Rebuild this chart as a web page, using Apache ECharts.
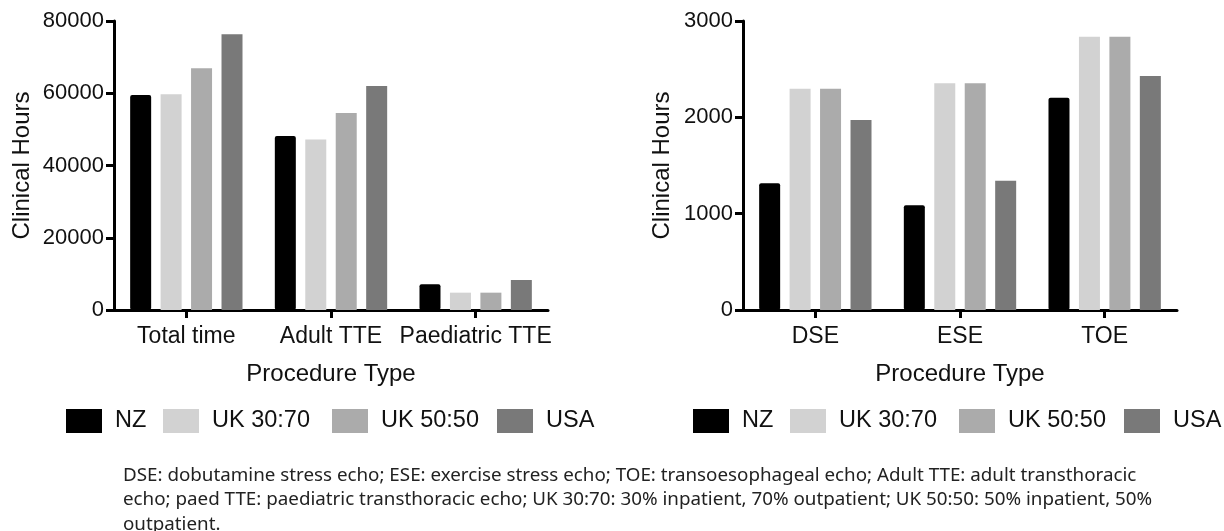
<!DOCTYPE html>
<html>
<head>
<meta charset="utf-8">
<script src="https://cdn.jsdelivr.net/npm/echarts@6/dist/echarts.min.js"></script>
<style>
  html, body { margin: 0; padding: 0; background: #fff; }
  #chart { width: 1224px; height: 531px; }
</style>
</head>
<body>
<div id="chart"></div>
<script>
// data
const groups = ['NZ', 'UK 30:70', 'UK 50:50', 'USA'];
const colors = ['#000000', '#d2d2d2', '#ababab', '#797979'];

const leftCats = ['Total time', 'Adult TTE', 'Paediatric TTE'];
const leftNZ = [59500, 48200, 7100];
const leftUK3070 = [59700, 47200, 4800];
const leftUK5050 = [66900, 54500, 4800];
const leftUSA = [76300, 62000, 8300];

const rightCats = ['DSE', 'ESE', 'TOE'];
const rightNZ = [1315, 1087, 2204];
const rightUK3070 = [2297, 2353, 2837];
const rightUK5050 = [2297, 2353, 2837];
const rightUSA = [1972, 1342, 2429];

const leftTicks = [0, 20000, 40000, 60000, 80000];
const rightTicks = [0, 1000, 2000, 3000];

const footnote = [
  'DSE: dobutamine stress echo; ESE: exercise stress echo; TOE: transoesophageal echo; Adult TTE: adult transthoracic',
  'echo; paed TTE: paediatric transthoracic echo; UK 30:70: 30% inpatient, 70% outpatient; UK 50:50: 50% inpatient, 50%',
  'outpatient.'
];

const font = 'Liberation Sans';
const chart = echarts.init(document.getElementById('chart'));

const axisLine = { show: true, lineStyle: { color: '#000', width: 3 } };
const axisTick = { show: true, length: 8, lineStyle: { color: '#000', width: 3 } };

function xAxis(idx, cats) {
  return {
    type: 'category',
    gridIndex: idx,
    data: cats,
    name: 'Procedure Type',
    nameLocation: 'middle',
    nameGap: 52,
    nameTextStyle: { fontFamily: font, fontSize: 24, color: '#111' },
    axisLine: axisLine,
    axisTick: Object.assign({ alignWithLabel: true }, axisTick),
    axisLabel: { fontFamily: font, fontSize: 23, color: '#111', margin: 15, interval: 0 }
  };
}

function yAxis(idx, ticks, gap) {
  return {
    type: 'value',
    gridIndex: idx,
    min: ticks[0],
    max: ticks[ticks.length - 1],
    interval: ticks[1] - ticks[0],
    name: 'Clinical Hours',
    nameLocation: 'middle',
    nameGap: gap,
    nameTextStyle: { fontFamily: font, fontSize: 24, color: '#111' },
    axisLine: axisLine,
    axisTick: axisTick,
    splitLine: { show: false },
    axisLabel: { fontFamily: font, fontSize: 22, color: '#111', margin: 10, formatter: v => String(v) }
  };
}

function bars(idx, lists) {
  return lists.map((d, i) => ({
    name: groups[i],
    type: 'bar',
    xAxisIndex: idx,
    yAxisIndex: idx,
    data: d,
    barWidth: 21,
    barGap: '45%',
    itemStyle: { color: colors[i], borderRadius: i === 0 ? 2 : 0 },
    emphasis: { disabled: true }
  }));
}

// one legend per item so the spacing follows the figure
const legendX = [66, 163, 332, 497];
function legends(offset) {
  return groups.map((g, i) => ({
    data: [g],
    left: legendX[i] + offset,
    top: 409,
    padding: 0,
    itemWidth: 36,
    itemHeight: 24,
    icon: 'rect',
    selectedMode: false,
    textStyle: { fontFamily: font, fontSize: 23.5, color: '#111', padding: [0, 0, 0, 8] }
  }));
}

chart.setOption({
  animation: false,
  grid: [
    { left: 114, top: 21, width: 434, height: 289 },
    { left: 743, top: 21, width: 434, height: 289 }
  ],
  xAxis: [xAxis(0, leftCats), xAxis(1, rightCats)],
  yAxis: [yAxis(0, leftTicks, 80), yAxis(1, rightTicks, 69)],
  legend: legends(0).concat(legends(627)),
  series: bars(0, [leftNZ, leftUK3070, leftUK5050, leftUSA])
    .concat(bars(1, [rightNZ, rightUK3070, rightUK5050, rightUSA])),
  graphic: [{
    type: 'text',
    left: 123,
    top: 463,
    style: {
      text: footnote.join('\n'),
      fontFamily: 'Noto Sans',
      fontSize: 18.8,
      lineHeight: 24.5,
      fill: '#222'
    }
  }]
});
</script>
</body>
</html>
